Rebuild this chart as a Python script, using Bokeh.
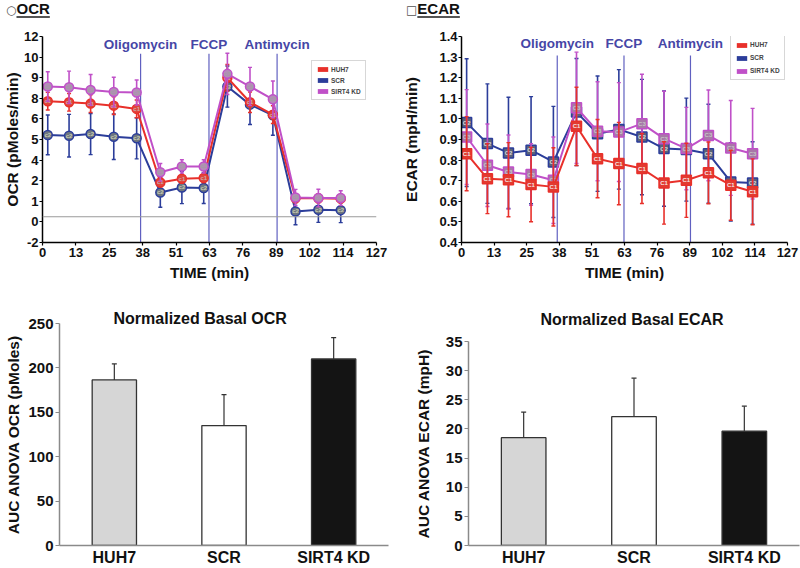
import math
from bokeh.plotting import figure
from bokeh.models import (Range1d, FixedTicker, Span, Legend, LegendItem, FactorRange, Title, Div)
from bokeh.layouts import column, row
from bokeh.embed import file_html
from bokeh.resources import INLINE
from bokeh.core.properties import value

FONT = "Liberation Sans"

# ---------------- data ----------------
time_min = [2.0, 10.1, 18.3, 27.1, 35.8, 44.8, 53.0, 61.3, 70.3, 78.9, 87.6, 96.2, 104.9, 113.4]
injection_times = [37.3, 63.3, 89.2]
injection_names = ["Oligomycin", "FCCP", "Antimycin"]
series_names = ["HUH7", "SCR", "SIRT4 KD"]
ocr_codes = ["c1", "c2", "c3"]
ecar_codes = ["C1", "C2", "C3"]

ocr_huh7 = [7.60, 7.53, 7.44, 7.30, 7.08, 2.08, 2.33, 2.38, 9.20, 7.53, 6.69, 1.00, 1.00, 0.98]
ocr_huh7_sd = [0.6, 0.6, 0.6, 0.6, 0.6, 0.3, 0.3, 0.3, 0.9, 0.7, 0.6, 0.3, 0.3, 0.3]
ocr_scr = [5.31, 5.26, 5.37, 5.19, 5.08, 1.40, 1.74, 1.70, 8.60, 7.37, 6.64, 0.11, 0.22, 0.20]
ocr_scr_sd = [1.35, 1.45, 1.40, 1.55, 1.40, 1.0, 1.1, 1.05, 1.4, 1.35, 1.35, 0.9, 0.85, 0.85]
ocr_kd = [8.60, 8.55, 8.37, 8.23, 8.19, 2.77, 3.17, 3.17, 9.46, 8.60, 7.73, 1.06, 1.02, 1.02]
ocr_kd_sd = [1.0, 1.1, 1.05, 1.0, 0.85, 0.6, 0.45, 0.45, 1.4, 1.3, 1.25, 0.55, 0.6, 0.5]
ocr_baseline = -0.25

ecar_huh7 = [0.831, 0.710, 0.705, 0.681, 0.670, 0.964, 0.807, 0.783, 0.759, 0.689, 0.702, 0.738, 0.678, 0.646]
ecar_huh7_sd = [0.18, 0.17, 0.18, 0.18, 0.19, 0.19, 0.19, 0.20, 0.17, 0.20, 0.18, 0.15, 0.17, 0.16]
ecar_scr = [0.982, 0.880, 0.835, 0.848, 0.791, 1.033, 0.928, 0.949, 0.912, 0.856, 0.851, 0.831, 0.694, 0.689]
ecar_scr_sd = [0.31, 0.29, 0.27, 0.26, 0.27, 0.26, 0.28, 0.29, 0.28, 0.28, 0.25, 0.24, 0.19, 0.20]
ecar_kd = [0.912, 0.775, 0.742, 0.730, 0.702, 1.054, 0.940, 0.936, 0.977, 0.904, 0.856, 0.920, 0.859, 0.831]
ecar_kd_sd = [0.23, 0.20, 0.18, 0.15, 0.21, 0.27, 0.24, 0.24, 0.24, 0.23, 0.20, 0.22, 0.23, 0.22]

groups = ["HUH7", "SCR", "SIRT4 KD"]
ocr_auc = [186.5, 135.0, 210.0]
ocr_auc_err = [18.0, 34.8, 24.0]
ecar_auc = [18.5, 22.1, 19.6]
ecar_auc_err = [4.4, 6.6, 4.3]

time_ticks = [round(12.7 * i, 4) for i in range(11)]
time_tick_labels = ["0", "13", "25", "38", "51", "63", "76", "89", "102", "114", "127"]
ocr_ticks = [round(-2 + 1.4 * i, 4) for i in range(11)]
ocr_tick_labels = ["-2", "0", "1", "2", "4", "5", "6", "8", "9", "10", "12"]
ecar_ticks = [round(0.4 + 0.1 * i, 4) for i in range(11)]
ecar_tick_labels = ["0.4", "0.5", "0.6", "0.7", "0.8", "0.9", "1.0", "1.1", "1.2", "1.3", "1.4"]
ocr_auc_ticks = [0, 50, 100, 150, 200, 250]
ecar_auc_ticks = [0, 5, 10, 15, 20, 25, 30, 35]

# ---------------- style ----------------
C_RED, C_BLUE, C_MAG = "#e8302a", "#2b3d9a", "#c050c8"
series_colors = [C_RED, C_BLUE, C_MAG]
ocr_fill = ["#e0453c", "#6e7680", "#b48cb8"]
ocr_text_col = ["#c8a8a8", "#c8ccb0", "#a0a0a0"]
ecar_fill = ["#e23a30", "#5a6378", "#a878a8"]
ecar_text_col = ["#f4e4e4", "#d8d8d8", "#c4c4c4"]
bar_fills = ["#d6d6d6", "#ffffff", "#141414"]
INJ_LINE = "#6060c0"
INJ_TEXT = "#4646a6"
TITLE_H = 20


def geom(W, H, L, R, T, B, xr, yr):
    fw, fh = W - L - R, H - T - B

    def to_data(px, py):
        return (xr[0] + (px - L) / fw * (xr[1] - xr[0]),
                yr[1] - (py - T) / fh * (yr[1] - yr[0]))
    return to_data


def base_fig(W, H, L, R, T, B, x_range, y_range):
    p = figure(width=W, height=H, x_range=x_range, y_range=y_range,
               output_backend="svg", toolbar_location=None,
               min_border_left=L, min_border_right=R, min_border_top=T, min_border_bottom=B)
    p.outline_line_color = None
    p.grid.visible = False
    p.background_fill_color = "white"
    return p


def style_axes(p, tick_size, label_size, line_color="black", tick_out=3):
    for ax in (p.xaxis[0], p.yaxis[0]):
        ax.axis_line_color = line_color
        ax.axis_line_width = 1.5
        ax.major_tick_line_color = line_color
        ax.major_tick_line_width = 1.2
        ax.major_tick_out = tick_out
        ax.major_tick_in = 0
        ax.minor_tick_line_color = None
        ax.major_label_text_font = FONT
        ax.major_label_text_font_style = "bold"
        ax.major_label_text_font_size = tick_size
        ax.major_label_text_color = "#111111"
        ax.major_label_standoff = 2
        ax.axis_label_text_font = FONT
        ax.axis_label_text_font_style = "bold"
        ax.axis_label_text_font_size = label_size
        ax.axis_label_text_color = "#111111"


def add_title(p, text, size, offset, standoff):
    p.add_layout(Title(text=text, align="left", offset=offset, standoff=standoff,
                       text_font=FONT, text_font_style="bold", text_font_size=size,
                       text_color="#111111"), "above")


def header(symbol, word):
    html = ('<div style="position:relative;left:6px;top:1px;white-space:nowrap;'
            'font-family:\'Liberation Sans\';font-weight:bold;font-size:15px;line-height:16px;color:#111;">'
            '<span style="font-family:\'DejaVu Sans\';font-weight:normal;font-size:12px;color:#555;">'
            + symbol + '</span><span style="text-decoration:underline;text-decoration-thickness:1.5px;'
            'text-underline-offset:2px;text-decoration-color:#555;">' + word + '</span></div>')
    return Div(text=html, width=400, height=TITLE_H, margin=0)


def time_panel(L, R, yr, ticks, tick_labels, ylab, ylab_standoff,
               series, sds, fills, text_cols, codes, marker, msize, order,
               legend_xy, legend_lh, legend_sp, inj_top_px, inj_text_py):
    # pixel rows given relative to the full 290 px panel (title strip included)
    W, H, T, B = 400, 290 - TITLE_H, 36 - TITLE_H, 48
    p = base_fig(W, H, L, R, T, B, Range1d(0, 127), Range1d(*yr))
    to_data = geom(W, H, L, R, T, B, (0, 127), yr)
    style_axes(p, "13px", "15.5px")
    p.yaxis.major_label_standoff = 1
    p.xaxis.ticker = FixedTicker(ticks=time_ticks)
    p.xaxis.major_label_overrides = dict(zip(time_ticks, time_tick_labels))
    p.xaxis.axis_label = "TIME (min)"
    p.xaxis.axis_label_standoff = 4
    p.yaxis.ticker = FixedTicker(ticks=ticks)
    p.yaxis.major_label_overrides = dict(zip(ticks, tick_labels))
    p.yaxis.axis_label = ylab
    p.yaxis.axis_label_standoff = ylab_standoff

    # injection markers
    y_top = to_data(0, inj_top_px - TITLE_H)[1]
    p.segment(x0=injection_times, y0=[yr[0]] * 3, x1=injection_times, y1=[y_top] * 3,
              line_color=INJ_LINE, line_width=1.2)
    y_txt = to_data(0, inj_text_py - TITLE_H)[1]
    p.text(x=injection_times, y=[y_txt] * 3, text=injection_names, text_align="center",
           text_baseline="middle", text_font=value(FONT), text_font_style="bold",
           text_font_size="13.5px", text_color=INJ_TEXT)

    for i in order:
        vals, sd, c = series[i], sds[i], series_colors[i]
        lo = [v - s for v, s in zip(vals, sd)]
        hi = [v + s for v, s in zip(vals, sd)]
        p.segment(x0=time_min, y0=lo, x1=time_min, y1=hi, line_color=c, line_width=1.6)
        p.scatter(x=time_min + time_min, y=lo + hi, marker="dash", size=4, line_color=c, line_width=1.4)
        p.line(x=time_min, y=vals, line_color=c, line_width=2)
        p.scatter(x=time_min, y=vals, marker=marker, size=msize, fill_color=fills[i],
                  line_color=c, line_width=1.5)
        p.text(x=time_min, y=vals, text=[codes[i]] * len(vals), text_align="center",
               text_baseline="middle", text_font=value(FONT), text_font_size="6px",
               text_font_style="bold", text_color=text_cols[i])

    legend_items = []
    for i in range(3):
        vals = series[i]
        # zero-size patch used only as the legend swatch
        r = p.quad(left=time_min[:1], right=time_min[:1], bottom=vals[:1], top=vals[:1],
                   fill_color=series_colors[i], line_color=None)
        legend_items.append(LegendItem(label=series_names[i], renderers=[r]))
    leg = Legend(items=legend_items, location=legend_xy, glyph_width=13, glyph_height=6,
                 label_text_font=FONT, label_text_font_style="bold", label_text_font_size="6.5px",
                 label_text_color="#444444", label_height=legend_lh, label_standoff=2,
                 spacing=legend_sp, padding=4, margin=0, border_line_color="#b0b0b0",
                 border_line_width=1, background_fill_color="white")
    p.add_layout(leg)
    return p


# ---------------- OCR time course ----------------
p1 = time_panel(
    42, 24, (-2, 12), ocr_ticks, ocr_tick_labels, "OCR (pMoles/min)", 0,
    [ocr_huh7, ocr_scr, ocr_kd], [ocr_huh7_sd, ocr_scr_sd, ocr_kd_sd],
    ocr_fill, ocr_text_col, ocr_codes, "circle", 9, [1, 0, 2],
    (269, 142), 8, 3, 53.3, 44.0)
p1.add_layout(Span(location=ocr_baseline, dimension="width", line_color="#9a9a9a", line_width=1))

# ---------------- ECAR time course ----------------
p2 = time_panel(
    61, 13, (0.4, 1.4), ecar_ticks, ecar_tick_labels, "ECAR (mpH/min)", 16,
    [ecar_huh7, ecar_scr, ecar_kd], [ecar_huh7_sd, ecar_scr_sd, ecar_kd_sd],
    ecar_fill, ecar_text_col, ecar_codes, "square", 10, [1, 2, 0],
    (269, 162), 9, 4, 55.0, 43.3)


# ---------------- bar charts ----------------
def bar_panel(L, R, T, B, ymax, ticks, vals, errs, ylab, ylab_standoff, title, title_offset, title_standoff):
    W, H = 400, 278
    p = base_fig(W, H, L, R, T, B, FactorRange(*groups), Range1d(0, ymax))
    style_axes(p, "15px", "15.5px", line_color="#8a8a8a", tick_out=4)
    p.xaxis.major_tick_out = 0
    p.xaxis.major_label_text_font_size = "16px"
    p.xaxis.major_label_standoff = 3
    p.yaxis.ticker = FixedTicker(ticks=ticks)
    p.yaxis.axis_label = ylab
    p.yaxis.axis_label_standoff = ylab_standoff
    p.vbar(x=groups, top=vals, width=0.404, fill_color=bar_fills, line_color="#333333", line_width=1.3)
    hi = [v + e for v, e in zip(vals, errs)]
    p.segment(x0=groups, y0=vals, x1=groups, y1=hi, line_color="#333333", line_width=1.2)
    p.scatter(x=groups, y=hi, marker="dash", size=5, line_color="#333333", line_width=1.2)
    add_title(p, title, "16px", title_offset, title_standoff)
    return p


p3 = bar_panel(59, 12, 33, 22, 250, ocr_auc_ticks, ocr_auc, ocr_auc_err,
               "AUC ANOVA OCR (pMoles)", 3, "Normalized Basal OCR", 54, -7)
p4 = bar_panel(68, 1, 51, 22, 35, ecar_auc_ticks, ecar_auc, ecar_auc_err,
               "AUC ANOVA ECAR (mpH)", 11, "Normalized Basal ECAR", 72, 27)

layout = column(row(column(header("\u25cb", "OCR"), p1), column(header("\u25a1", "ECAR"), p2)),
                row(column(p3), column(p4)))
open("out.html", "w").write(file_html(layout, INLINE))
